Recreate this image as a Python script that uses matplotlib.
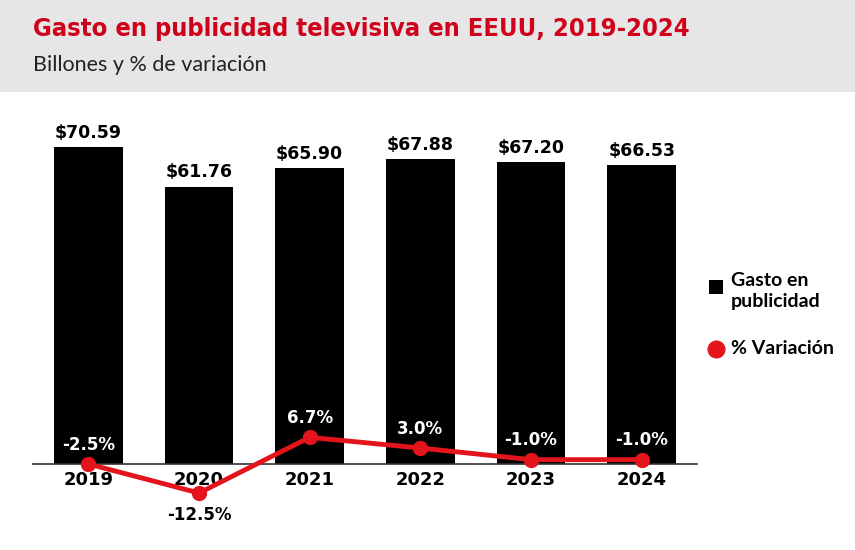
import numpy as np
import matplotlib
matplotlib.use('Agg')
from matplotlib import pyplot as plt
from matplotlib.patches import Rectangle

years = ['2019', '2020', '2021', '2022', '2023', '2024']
gasto = [70.59, 61.76, 65.90, 67.88, 67.20, 66.53]
variacion = [-2.5, -12.5, 6.7, 3.0, -1.0, -1.0]

rojo = '#e3141c'
titulo_rojo = '#d0021b'

fig = plt.figure(figsize=(8.55, 5.5), dpi=100)

# banda gris de cabecera
fig.patches.append(Rectangle((0, 1 - 92 / 550), 1, 92 / 550, transform=fig.transFigure,
                             facecolor='#e6e6e6', edgecolor='none', zorder=0))
fig.text(33 / 855, 1 - 29 / 550, 'Gasto en publicidad televisiva en EEUU, 2019-2024',
         fontsize=18.3, fontweight='bold', color=titulo_rojo, va='center',
         family='DejaVu Sans', fontstretch='condensed')
fig.text(33 / 855, 1 - 65 / 550, 'Billones y % de variación',
         fontsize=15.5, color='#222222', va='center', family='Lato')

ax = fig.add_axes([33 / 855, 86 / 550, 664 / 855, 364 / 550])
index = np.arange(len(years))
ax.bar(index, gasto, 0.62, color='black', zorder=2)
ax.set_xlim(-0.5, 5.5)
ax.set_ylim(0, 364 / 4.49)
for s in ['top', 'right', 'left']:
    ax.spines[s].set_visible(False)
ax.spines['bottom'].set_color('#333333')
ax.spines['bottom'].set_linewidth(1.2)
ax.set_yticks([])
ax.set_xticks(index)
ax.set_xticklabels(years, fontsize=13, fontweight='bold', family='DejaVu Sans')
ax.tick_params(axis='x', length=0, pad=5)
for i, v in enumerate(gasto):
    ax.text(i, v + 1.2, '$%.2f' % v, ha='center', va='bottom', fontsize=12.5,
            fontweight='bold', family='DejaVu Sans')

ax2 = ax.twinx()
ax2.set_ylim(-2.5, 123.0)
ax2.axis('off')
ax2.plot(index, variacion, color=rojo, linewidth=3.5, marker='o', markersize=10,
         clip_on=False, zorder=3)
for i, v in enumerate(variacion):
    if v < -5:
        ax2.text(i, v - 4.5, '%.1f%%' % v, ha='center', va='top', fontsize=12,
                 fontweight='bold', color='black', family='DejaVu Sans')
    else:
        ax2.text(i, v + 3.5, '%.1f%%' % v, ha='center', va='bottom', fontsize=12,
                 fontweight='bold', color='white', family='DejaVu Sans')

# leyenda
fig.patches.append(Rectangle((709 / 855, 1 - 294 / 550), 14 / 855, 14 / 550,
                             transform=fig.transFigure, facecolor='black', edgecolor='none'))
fig.text(731 / 855, 1 - 291 / 550, 'Gasto en\npublicidad', fontsize=14, fontweight='bold',
         va='center', linespacing=1.3, family='Lato')
fig.lines.append(plt.Line2D([716 / 855], [1 - 349 / 550], transform=fig.transFigure,
                            marker='o', markersize=12, color=rojo, linestyle='none'))
fig.text(731 / 855, 1 - 349 / 550, '% Variación', fontsize=14, fontweight='bold',
         va='center', family='Lato')

fig.savefig('out.png', dpi=100)
